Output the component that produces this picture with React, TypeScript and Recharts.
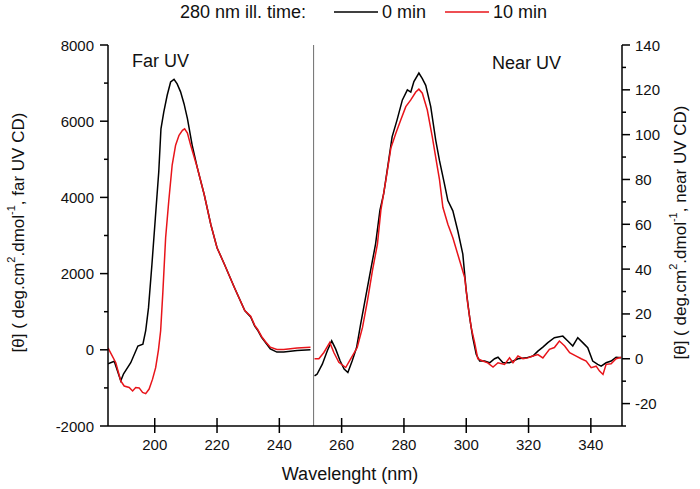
import { LineChart, Line, XAxis, YAxis, ReferenceLine } from 'recharts';

const FONT = '"Liberation Sans", Arial, sans-serif';

// [wavelength nm, molar ellipticity]
const farUv0min: [number, number][] = [
  [185, -370], [187, -300], [189.1, -815], [190, -630], [192.3, -340], [194.6, 100],
  [196.2, 150], [197.1, 500], [198, 1100], [199.1, 2240], [200.2, 3460], [201.3, 4680],
  [202, 5800], [202.9, 6240], [204, 6680], [205.1, 7030], [206.2, 7100], [207.2, 6980],
  [208.3, 6770], [209.4, 6460], [210.5, 6070], [212, 5380], [213.7, 4770], [215.9, 4070],
  [218, 3290], [220, 2680], [222.4, 2240], [225.6, 1630], [228.9, 1030], [230.8, 860],
  [232.1, 620], [233, 520], [234.3, 330], [235.5, 200], [237.1, 25], [239.2, -60],
  [241.4, -60], [245.7, -20], [250, 0],
];

const farUv10min: [number, number][] = [
  [185, 50], [187.5, -340], [189.1, -815], [190.2, -950], [191.8, -990], [192.9, -1080],
  [193.9, -990], [195, -1000], [196.1, -1120], [197.1, -1150], [198.2, -1030], [199.3, -770],
  [200.3, -470], [201.2, 0], [201.9, 500], [202.6, 1500], [203.5, 2940], [204.5, 3900],
  [205.6, 4850], [206.7, 5370], [207.8, 5630], [208.9, 5760], [209.6, 5800], [210.5, 5690],
  [211.5, 5380], [213.7, 4770], [215.9, 4070], [218, 3290], [220, 2680], [222.4, 2240],
  [225.6, 1630], [228.9, 1030], [230.8, 880], [232.1, 640], [233, 540], [234.3, 350],
  [235.5, 220], [237.1, 70], [239.2, 10], [241.4, 10], [245.7, 50], [250, 70],
];

const nearUv0min: [number, number][] = [
  [251.3, -7.6], [252.1, -6.9], [253.8, -2.4], [255.4, 3.6], [256.8, 8], [258.1, 4.3],
  [259.5, -0.9], [260.8, -4.6], [262, -6.1], [263.4, -0.9], [264.8, 5], [266.1, 15.5],
  [267.7, 27.5], [269.3, 39.4], [270.9, 51.3], [272.3, 66.3], [273.5, 73.7], [274.8, 85.7],
  [276.2, 99], [277.8, 106.6], [279.5, 115.5], [281.1, 120], [282.2, 119], [283.2, 123.7],
  [284.8, 127.5], [285.9, 125], [287, 122], [288.6, 112.5], [290.2, 97.6], [291.4, 88.5],
  [293, 78], [294.1, 70.6], [295.7, 66], [297.3, 57], [298.9, 46.7], [300, 30.3],
  [301.1, 18.4], [302.1, 9.4], [303.2, 2], [304.3, -1], [305.9, -1], [307.5, -1.8],
  [309.1, 0], [310.2, 0.7], [311.8, -1.8], [313.9, -1.8], [316.6, 0], [319.3, 0.4],
  [321.4, 1.2], [323, 3.4], [324.6, 5.2], [326.2, 7.2], [328.3, 9.4], [331, 10.1],
  [332.6, 7.9], [334.2, 5.7], [335.8, 9.4], [337.4, 7.2], [339, 4.9], [340.6, -1],
  [342.2, -2.5], [343.3, -3.3], [344.9, -1.8], [346.5, -1], [348.1, 0.7], [349.7, 0.4],
];

const nearUv10min: [number, number][] = [
  [251.3, 0], [252.7, 0], [254.3, 2.8], [256.2, 7.3], [257.5, 2.8], [259.1, -1.6],
  [261.3, -3.9], [262.9, 0], [265, 5], [266.7, 14], [268.3, 26], [269.9, 39.4],
  [271.5, 51.3], [272.6, 66.3], [274.2, 79.7], [275.8, 94], [277.4, 100.6], [279, 106.6],
  [280.6, 112.5], [282.2, 115.5], [283.8, 119], [284.8, 120.3], [285.9, 118.5], [287.5, 111],
  [289.1, 99], [290.7, 85.7], [291.4, 80], [292.5, 67.6], [294.1, 60], [295.7, 54],
  [297.9, 43.7], [299.5, 36.3], [300.5, 24.3], [301.6, 13.9], [302.7, 7.2], [303.7, 0],
  [305.3, -1], [306.9, -1.8], [308.6, -3.7], [310.2, -1.8], [312.3, -2.5], [313.9, 0.4],
  [315, -1.8], [316.6, 1.2], [318.2, 0], [319.8, 0.4], [321.4, 1.2], [323, 1.9],
  [324.6, 0.4], [326.7, 4.2], [328.3, 5], [329.9, 7.9], [331.6, 5.7], [333.2, 2.7],
  [335.3, 1.2], [336.9, 0], [338.5, -1], [340.1, -4], [341.7, -3.3], [342.8, -5.5],
  [343.9, -7], [344.9, -2.5], [346.5, -2.2], [348.1, 0], [349.7, 0.7],
];

const xTicks = [200, 220, 240, 260, 280, 300, 320, 340];
const farTicks = [-2000, -1000, 0, 1000, 2000, 3000, 4000, 5000, 6000, 7000, 8000];
const nearTicks = [-30, -20, -10, 0, 10, 20, 30, 40, 50, 60, 70, 80, 90, 100, 110, 120, 130, 140];

const toRows = (pts: [number, number][]) => pts.map(([nm, v]) => ({ nm, v }));

function XTick({ x, y, payload }: any) {
  return (
    <g>
      <line x1={x} x2={x} y1={y - 8} y2={y + 7} stroke="#000" strokeWidth={1.5} />
      <text x={x} y={y + 18} textAnchor="middle" dominantBaseline="central" fontSize={15} fill="#111" fontFamily={FONT}>
        {payload.value}
      </text>
    </g>
  );
}

function FarTick({ x, y, payload }: any) {
  const major = payload.value % 2000 === 0;
  return (
    <g>
      <line x1={x} x2={x - (major ? 8 : 4)} y1={y} y2={y} stroke="#000" strokeWidth={1.5} />
      {major && (
        <text x={x - 14} y={y} textAnchor="end" dominantBaseline="central" fontSize={15} fill="#111" fontFamily={FONT}>
          {payload.value}
        </text>
      )}
    </g>
  );
}

function NearTick({ x, y, payload }: any) {
  const major = payload.value % 20 === 0;
  return (
    <g>
      <line x1={x} x2={x + (major ? 8 : 4)} y1={y} y2={y} stroke="#000" strokeWidth={1.5} />
      {major && (
        <text x={x + 13} y={y} textAnchor="start" dominantBaseline="central" fontSize={15} fill="#111" fontFamily={FONT}>
          {payload.value}
        </text>
      )}
    </g>
  );
}

function thetaLabel(cx: number, cy: number, region: string) {
  return (
    <text
      x={cx}
      y={cy}
      transform={`rotate(-90, ${cx}, ${cy})`}
      textAnchor="middle"
      dominantBaseline="central"
      fontSize={17}
      fill="#111"
      fontFamily={FONT}
    >
      [θ] ( deg.cm
      <tspan dy={-7} fontSize={11}>2</tspan>
      <tspan dy={7}>.dmol</tspan>
      <tspan dy={-7} fontSize={11}>-1</tspan>
      <tspan dy={7}>, {region} UV CD)</tspan>
    </text>
  );
}

function LegendSwatch({ color, left }: { color: string; left: number }) {
  return (
    <svg width={44} height={4} style={{ position: 'absolute', left, top: 10 }}>
      <line x1={0} x2={44} y1={2} y2={2} stroke={color} strokeWidth={1.5} />
    </svg>
  );
}

const captionStyle = { position: 'absolute' as const, fontSize: 18, color: '#111', whiteSpace: 'nowrap' as const, lineHeight: '24px' };

export default function App() {
  return (
    <div style={{ position: 'absolute', left: 0, top: 0, width: 700, height: 489, background: '#fff', fontFamily: FONT }}>
      <LineChart width={700} height={489} margin={{ top: 45, right: 18, left: 48, bottom: 33 }}>
        <XAxis
          xAxisId={0}
          type="number"
          dataKey="nm"
          domain={[185, 350]}
          ticks={xTicks}
          interval={0}
          allowDataOverflow
          height={30}
          tickSize={0}
          tickMargin={0}
          tickLine={false}
          tick={<XTick />}
          axisLine={{ stroke: '#000', strokeWidth: 1.5 }}
          label={{
            content: ({ viewBox }: any) => (
              <text
                x={viewBox.x + viewBox.width / 2 - 15}
                y={viewBox.y + 54}
                textAnchor="middle"
                fontSize={18}
                fill="#111"
                fontFamily={FONT}
              >
                Wavelenght (nm)
              </text>
            ),
          }}
        />
        <YAxis
          yAxisId="far"
          orientation="left"
          width={60}
          domain={[-2000, 8000]}
          ticks={farTicks}
          interval={0}
          allowDataOverflow
          tickSize={0}
          tickMargin={0}
          tickLine={false}
          tick={<FarTick />}
          axisLine={{ stroke: '#000', strokeWidth: 1.5 }}
          label={{
            content: ({ viewBox }: any) => thetaLabel(viewBox.x - 30, viewBox.y + viewBox.height / 2 - 3, 'far'),
          }}
        />
        <YAxis
          yAxisId="near"
          orientation="right"
          width={60}
          domain={[-30, 140]}
          ticks={nearTicks}
          interval={0}
          allowDataOverflow
          tickSize={0}
          tickMargin={0}
          tickLine={false}
          tick={<NearTick />}
          axisLine={{ stroke: '#000', strokeWidth: 1.5 }}
          label={{
            content: ({ viewBox }: any) => thetaLabel(viewBox.x + 58, viewBox.y + viewBox.height / 2 - 3, 'near'),
          }}
        />
        <ReferenceLine x={251} yAxisId="far" stroke="#6e6e6e" strokeWidth={1} />
        <Line yAxisId="far" data={toRows(farUv0min)} dataKey="v" type="linear" stroke="#000" strokeWidth={1.5} dot={false} isAnimationActive={false} />
        <Line yAxisId="far" data={toRows(farUv10min)} dataKey="v" type="linear" stroke="#e8141a" strokeWidth={1.5} dot={false} isAnimationActive={false} />
        <Line yAxisId="near" data={toRows(nearUv0min)} dataKey="v" type="linear" stroke="#000" strokeWidth={1.5} dot={false} isAnimationActive={false} />
        <Line yAxisId="near" data={toRows(nearUv10min)} dataKey="v" type="linear" stroke="#e8141a" strokeWidth={1.5} dot={false} isAnimationActive={false} />
      </LineChart>

      {/* legend */}
      <div style={{ ...captionStyle, left: 180, top: 0 }}>280 nm ill. time:</div>
      <LegendSwatch color="#000" left={334} />
      <div style={{ ...captionStyle, left: 382, top: 0 }}>0 min</div>
      <LegendSwatch color="#e8141a" left={445} />
      <div style={{ ...captionStyle, left: 493, top: 0 }}>10 min</div>

      {/* region captions */}
      <div style={{ ...captionStyle, left: 132, top: 49 }}>Far UV</div>
      <div style={{ ...captionStyle, left: 492, top: 51 }}>Near UV</div>
    </div>
  );
}
